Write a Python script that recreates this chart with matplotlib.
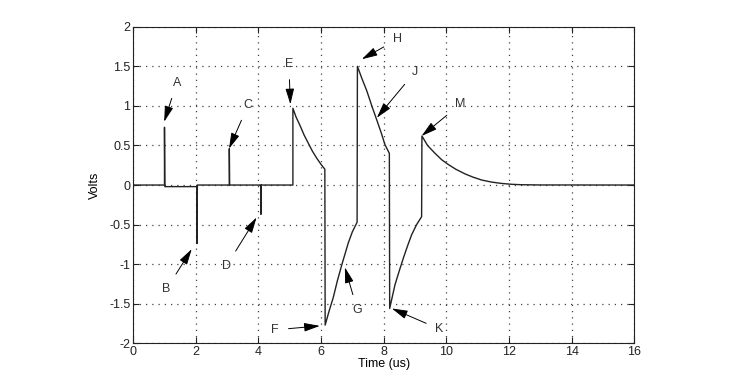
import numpy as np
import matplotlib.pyplot as plt

plt.rcParams['font.family'] = ['Liberation Sans', 'DejaVu Sans']

# waveform (time in us, volts)
t = [0, 1.0, 1.0, 1.01, 2.04, 2.04, 2.05,
     3.07, 3.07, 3.08, 4.08, 4.08, 4.09,
     5.1, 5.1, 5.2, 5.33, 5.46, 5.59, 5.72, 5.86, 6.0, 6.12,
     6.13, 6.25, 6.39, 6.52, 6.66, 6.87, 7.0, 7.15,
     7.16, 7.3, 7.46, 7.62, 7.78, 7.92, 8.04, 8.18,
     8.19, 8.36, 8.5, 8.63, 8.76, 8.89, 9.05, 9.21,
     9.22, 9.4, 9.64, 9.85, 10.06, 10.3, 10.6, 10.85, 11.13, 11.45,
     11.77, 12.1, 12.4, 13.0, 16]
v = [0, 0, 0.73, -0.02, -0.02, -0.74, 0,
     0, 0.46, 0, 0, -0.37, 0,
     0, 0.97, 0.86, 0.75, 0.63, 0.53, 0.43, 0.34, 0.26, 0.20,
     -1.77, -1.60, -1.42, -1.21, -1.01, -0.73, -0.59, -0.47,
     1.50, 1.35, 1.19, 1.0, 0.82, 0.66, 0.51, 0.40,
     -1.56, -1.26, -1.08, -0.92, -0.77, -0.63, -0.50, -0.40,
     0.62, 0.50, 0.40, 0.32, 0.26, 0.20, 0.14, 0.10, 0.063, 0.037,
     0.02, 0.009, 0.004, 0.001, 0]

# annotations: label, text position, arrow tip
labels = ['A', 'B', 'C', 'D', 'E', 'F', 'G', 'H', 'J', 'K', 'M']
text_xy = [(1.39, 1.29), (1.07, -1.31), (3.67, 1.01), (2.98, -1.02),
           (4.97, 1.53), (4.53, -1.83), (7.16, -1.58), (8.43, 1.84),
           (9.0, 1.43), (9.78, -1.82), (10.44, 1.02)]
tip_xy = [(0.99, 0.80), (1.87, -0.81), (3.06, 0.46), (3.94, -0.41),
          (5.02, 1.02), (5.96, -1.78), (6.76, -1.04), (7.3, 1.59),
          (7.78, 0.85), (8.26, -1.56), (9.21, 0.62)]

fig = plt.figure(figsize=(7.44, 3.88), dpi=100)
ax = fig.add_axes([0.179, 0.1152, 0.6735, 0.8158])

ax.plot(t, v, color='#222222', lw=1.0)

for lab, txy, pxy in zip(labels, text_xy, tip_xy):
    ax.annotate(lab, xy=pxy, xytext=txy, ha='center', va='center',
                fontsize=9, color='#333333',
                arrowprops=dict(arrowstyle='-|>,head_length=0.8,head_width=0.22',
                                color='black', lw=0.7,
                                mutation_scale=12, shrinkA=5, shrinkB=0))

ax.set_xlim(0, 16)
ax.set_ylim(-2, 2)
ax.set_xticks(range(0, 17, 2))
ax.set_yticks(np.arange(-2, 2.01, 0.5))
ax.set_yticklabels(['-2', '-1.5', '-1', '-0.5', '0', '0.5', '1', '1.5', '2'])
ax.grid(True, linestyle=(0, (1, 4)), color='#444444', lw=0.9)
ax.tick_params(direction='in', top=True, right=True, labelsize=9,
               colors='#222222', length=4, pad=2)
for s in ax.spines.values():
    s.set_color('#222222')
    s.set_linewidth(0.8)

ax.set_xlabel('Time (us)', fontsize=9, labelpad=0)
ax.set_ylabel('Volts', fontsize=9, labelpad=6)

fig.savefig('out.png', dpi=100)
